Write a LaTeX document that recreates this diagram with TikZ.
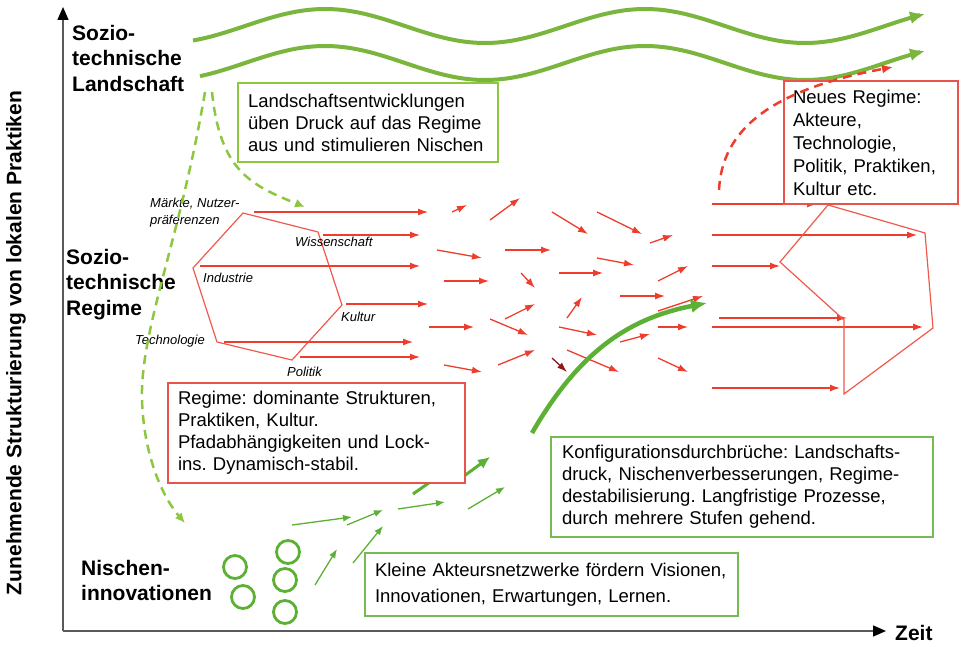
\documentclass[tikz,border=0pt]{standalone}
\usepackage{fontspec}
\setmainfont{Liberation Sans}
\usetikzlibrary{arrows.meta, positioning}
\frenchspacing

\definecolor{wavegreen}{RGB}{122,182,62}
\definecolor{lightgreen}{RGB}{141,198,63}
\definecolor{nichegreen}{RGB}{92,176,52}
\definecolor{regred}{RGB}{238,60,45}
\definecolor{boxred}{RGB}{232,84,76}
\definecolor{darkred}{RGB}{140,25,25}
\definecolor{axisgray}{RGB}{90,90,90}

\newcommand{\tikzWave}[2]{
% #1 = start x, #2 = centre y
\draw[wave] plot[domain=#1:925, samples=150] (\x, {#2 - 17*cos(1.125*(\x-325))});
}

\begin{document}
\begin{tikzpicture}[x=1pt, y=-1pt, >={Latex},
    wave/.style={wavegreen, line width=4pt, -{Latex[length=15pt,width=13pt]}},
    landdash/.style={lightgreen, line width=2.5pt, dash pattern=on 9pt off 6pt, -{Latex[length=10pt,width=9pt]}},
    regarrow/.style={regred, line width=1.3pt, -{Latex[length=10pt,width=7pt]}},
    regline/.style={regred!85, line width=1.2pt},
    nichearrow/.style={nichegreen, line width=1.3pt, -{Latex[length=9pt,width=7pt]}},
    thickniche/.style={nichegreen, line width=3pt, -{Latex[length=12pt,width=11pt]}},
    axis/.style={axisgray, line width=1.5pt, -{Triangle[length=13pt,width=11pt,color=black]}},
    sidelabel/.style={font=\fontsize{21}{25.5}\selectfont\bfseries, align=left, inner sep=0pt, anchor=north west},
    hexlabel/.style={font=\fontsize{13}{16.5}\selectfont\itshape, align=left, inner sep=0pt, anchor=west},
    textbox/.style={line width=2pt, align=left, inner sep=0pt, fill=white, font=\fontsize{18.5}{22}\selectfont}]

    \useasboundingbox (0,0) rectangle (962,647);

    % axes
    \coordinate (origin) at (63,631);
    \coordinate (ytop) at (63,7);
    \coordinate (xend) at (886,631);
    \draw[axis] (origin) -- (ytop);
    \draw[axis] (origin) -- (xend);
    \node[sidelabel, anchor=west] (zeit) at (895,633) {Zeit};
    \node[font=\fontsize{21}{25}\selectfont\bfseries, rotate=90, inner sep=0pt] (ylabel) at (16,343) {Zunehmende Strukturierung von lokalen Praktiken};

    % the three levels
    \node[sidelabel] (lblLand) at (72,25) {Sozio-\\technische\\Landschaft};
    \node[sidelabel] (lblRegime) at (66,249) {Sozio-\\technische\\Regime};
    \node[sidelabel] (lblNiche) at (81,560) {Nischen-\\innovationen};

    % landscape waves
    \tikzWave{193}{26}
    \tikzWave{200}{63}

    \node[textbox, draw=lightgreen, minimum width=260pt, minimum height=79pt, text width=240pt] (landbox) at (368,122.5)
        {Landschaftsentwicklungen\\üben Druck auf das Regime\\aus und stimulieren Nischen};

    % old regime hexagon and its labels
    \draw[regline] (243,213) -- (318,232) -- (342,305) -- (292,360) -- (217,342) -- (193,268) -- cycle;
    \node[hexlabel, anchor=north west] (markets) at (150,198) {Märkte, Nutzer-\\präferenzen};
    \node[hexlabel] (science) at (295,242) {Wissenschaft};
    \node[hexlabel] (industry) at (203,278) {Industrie};
    \node[hexlabel] (culture) at (341,317) {Kultur};
    \node[hexlabel] (technology) at (135,341) {Technologie};
    \node[hexlabel] (politics) at (287,372) {Politik};

    % field of red arrows
    \foreach \xa/\ya/\xb/\yb in {254/212/428/212, 323/235/420/235, 200/266/420/266, 346/304/428/304,
        224/342/413/342, 300/357/420/357,
        452/212/467/205, 490/220/520/198, 552/212/588/234, 597/212/642/234, 650/243/673/235,
        437/250/482/258, 505/250/551/250, 597/258/634/265, 444/281/489/281, 521/273/535/288,
        559/273/603/273, 658/281/688/266, 620/296/665/296, 505/319/535/304, 567/318/582/297,
        658/311/703/296, 429/327/474/327, 490/319/528/335, 559/327/597/335, 658/327/688/327,
        620/342/650/334, 444/365/482/372, 498/365/535/350, 567/350/619/372, 658/358/688/372,
        712/204/817/204, 712/235/917/235, 712/266/780/266, 719/318/847/318, 712/327/923/327,
        712/388/840/388}
        \draw[regarrow] (\xa,\ya) -- (\xb,\yb);
    \draw[regarrow, darkred] (552,358) -- (567,372);

    % new regime
    \draw[regline] (828,205) -- (925,233) -- (933,328) -- (844,394) -- (844,320) -- (780,262) -- cycle;
    \node[textbox, draw=boxred, minimum width=174pt, minimum height=123pt, text width=156pt,
        font=\fontsize{18.5}{23}\selectfont] (newbox) at (871,142.5)
        {Neues Regime:\\Akteure,\\Technologie,\\Politik, Praktiken,\\Kultur etc.};
    \draw[regarrow, line width=2.5pt, dash pattern=on 9pt off 6pt, -{Latex[length=11pt,width=9pt]}]
        (719,190) .. controls (722,130) and (770,90) .. (893,67);

    % pressure from the landscape
    \draw[landdash] (205,92) .. controls (180,240) and (140,330) .. (142,400) .. controls (144,460) and (165,500) .. (185,523);
    \draw[landdash] (212,92) .. controls (220,170) and (250,185) .. (305,207);

    % niches
    \foreach \cx/\cy in {235/567, 288/552, 243/597, 285/580, 285/612}
        \draw[nichegreen, line width=2.8pt] (\cx,\cy) circle (11.5pt);
    \foreach \xa/\ya/\xb/\yb in {292/525/352/517, 347/525/383/510, 315/585/337/549,
        353/563/383/526, 398/509/445/502, 468/509/505/487}
        \draw[nichearrow] (\xa,\ya) -- (\xb,\yb);
    \draw[thickniche] (413,494) -- (443,473);
    \draw[thickniche] (460,479) -- (490,457);
    % breakthrough into the regime
    \draw[nichegreen, line width=4.5pt, -{Latex[length=16pt,width=14pt]}] (532,433) .. controls (580,350) and (630,318) .. (707,303);

    \node[textbox, draw=boxred, minimum width=297pt, minimum height=100pt, text width=277pt] (regimebox) at (316.5,433)
        {Regime: dominante Strukturen,\\Praktiken, Kultur.\\Pfadabhängigkeiten und Lock-\\ins. Dynamisch-stabil.};
    \node[textbox, draw=nichegreen!85, minimum width=382pt, minimum height=100pt, text width=360pt] (konfbox) at (742,487)
        {Konfigurationsdurchbrüche: Landschafts-\\druck, Nischenverbesserungen, Regime-\\destabilisierung. Langfristige Prozesse,\\durch mehrere Stufen gehend.};
    \node[textbox, draw=nichegreen!85, minimum width=373pt, minimum height=63pt, text width=353pt,
        font=\fontsize{18.5}{26}\selectfont] (smallbox) at (551.5,584.5)
        {Kleine Akteursnetzwerke fördern Visionen,\\Innovationen, Erwartungen, Lernen.};

\end{tikzpicture}
\end{document}
